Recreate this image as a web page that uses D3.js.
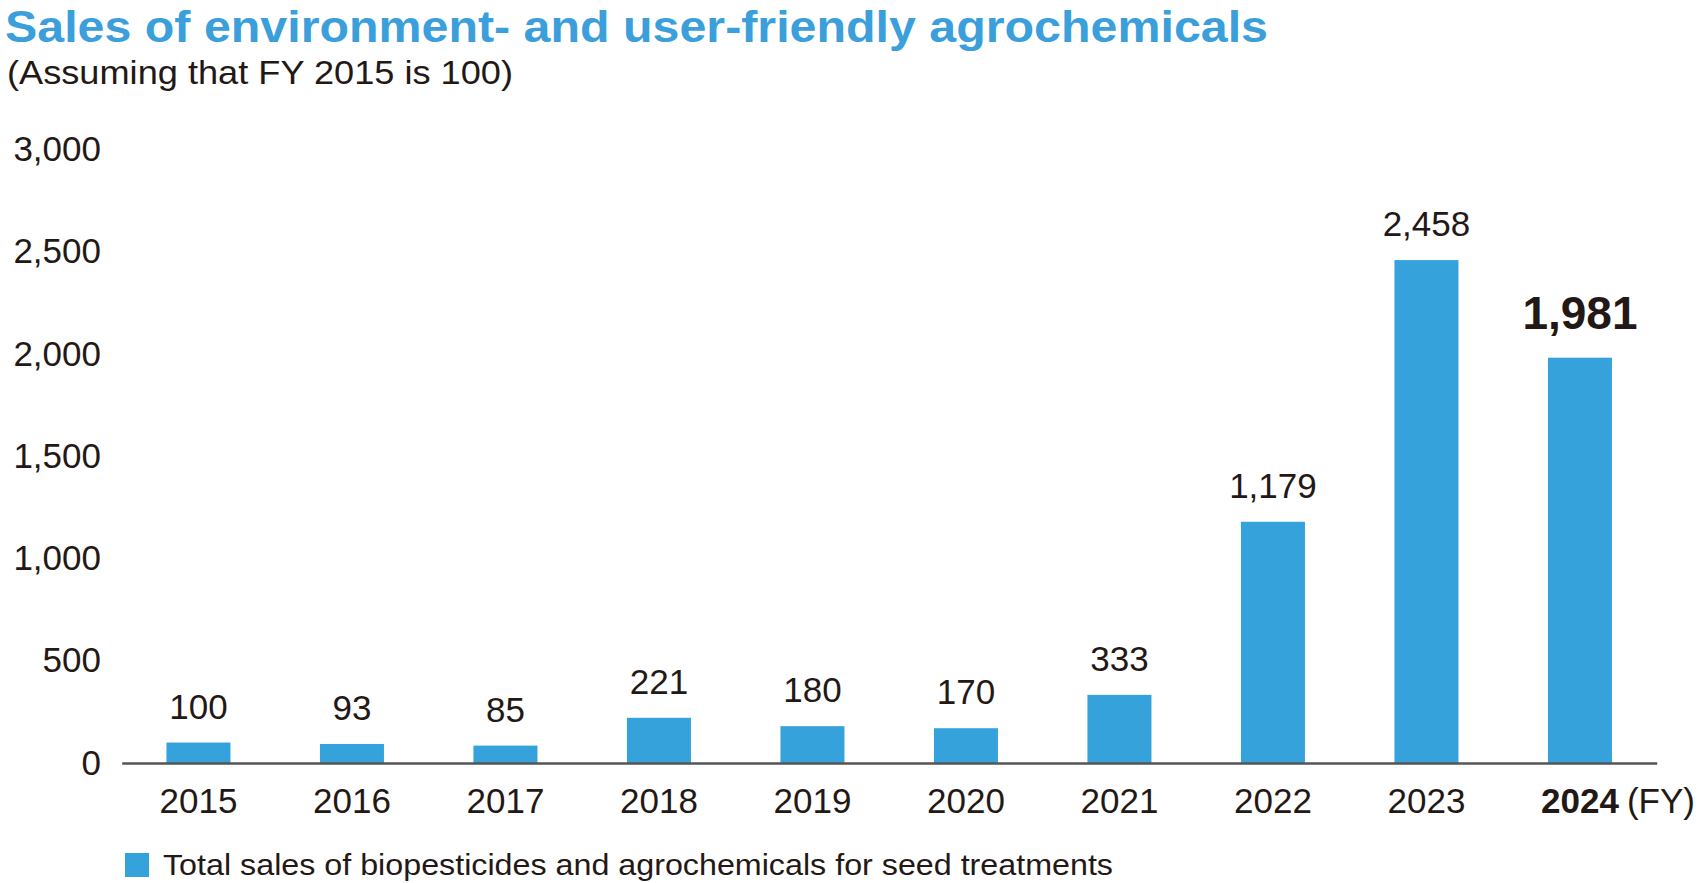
<!DOCTYPE html>
<html>
<head>
<meta charset="utf-8">
<script src="https://cdn.jsdelivr.net/npm/d3@7"></script>
<style>
  html, body { margin: 0; padding: 0; background: #fff; }
  svg { display: block; font-family: "Liberation Sans", Arial, Helvetica, sans-serif; }
</style>
</head>
<body>
<svg id="chart" width="1700" height="883"></svg>
<script>
const years = ["2015", "2016", "2017", "2018", "2019", "2020", "2021", "2022", "2023", "2024"];
const values = [100, 93, 85, 221, 180, 170, 333, 1179, 2458, 1981];
const yTicks = [0, 500, 1000, 1500, 2000, 2500, 3000];
const titleText = "Sales of environment- and user-friendly agrochemicals";
const subtitleText = "(Assuming that FY 2015 is 100)";
const legendText = "Total sales of biopesticides and agrochemicals for seed treatments";
const unitText = "(FY)";

const blue = "#35a2dc";
const ink = "#231815";

const svg = d3.select("#chart");

const x = d3.scaleBand()
  .domain(years)
  .range([121.7, 1656.7])
  .paddingInner(0.583)
  .paddingOuter(0.2915);

const y = d3.scaleLinear()
  .domain([0, 3000])
  .range([763, 149.2]);

// Title
svg.append("text")
  .attr("x", 5).attr("y", 42)
  .attr("fill", "#3a9fdb")
  .attr("font-weight", "bold")
  .attr("font-size", 45)
  .attr("textLength", 1263)
  .attr("lengthAdjust", "spacingAndGlyphs")
  .text(titleText);

svg.append("text")
  .attr("x", 7).attr("y", 84)
  .attr("fill", ink)
  .attr("font-size", 33)
  .attr("textLength", 506)
  .attr("lengthAdjust", "spacingAndGlyphs")
  .text(subtitleText);

// Y axis (labels only)
const yAxis = svg.append("g")
  .attr("transform", "translate(122,0)")
  .call(d3.axisLeft(y).tickValues(yTicks).tickSize(0).tickPadding(21)
    .tickFormat(d3.format(",")));
yAxis.select(".domain").remove();
yAxis.selectAll("text")
  .attr("fill", ink)
  .attr("font-size", 35)
  .attr("font-family", "Liberation Sans, Arial, sans-serif");

// Bars
svg.append("g").selectAll("rect")
  .data(years)
  .join("rect")
  .attr("x", d => x(d))
  .attr("width", x.bandwidth())
  .attr("y", (d, i) => y(values[i]))
  .attr("height", (d, i) => y(0) - y(values[i]))
  .attr("fill", blue);

// Value labels
svg.append("g").selectAll("text")
  .data(years)
  .join("text")
  .attr("x", d => x(d) + x.bandwidth() / 2)
  .attr("y", (d, i) => y(values[i]) - (i === years.length - 1 ? 29 : 24))
  .attr("text-anchor", "middle")
  .attr("fill", ink)
  .attr("font-size", (d, i) => i === years.length - 1 ? 46 : 35)
  .attr("font-weight", (d, i) => i === years.length - 1 ? "bold" : "normal")
  .text((d, i) => d3.format(",")(values[i]));

// X axis
const xAxis = svg.append("g")
  .attr("transform", `translate(0,${y(0)})`)
  .call(d3.axisBottom(x).tickSize(0).tickPadding(50).tickSizeOuter(0));
xAxis.select(".domain")
  .attr("stroke", "#555")
  .attr("stroke-width", 2.5);
xAxis.selectAll("text")
  .attr("fill", ink)
  .attr("font-size", 35)
  .attr("font-family", "Liberation Sans, Arial, sans-serif")
  .attr("dy", 0)
  .attr("y", 50)
  .attr("font-weight", d => d === "2024" ? "bold" : "normal");

// (FY) unit after last label
const last = years[years.length - 1];
svg.append("text")
  .attr("x", x(last) + x.bandwidth() / 2 + 47)
  .attr("y", y(0) + 50)
  .attr("fill", ink)
  .attr("font-size", 35)
  .text(unitText);

// Legend
svg.append("rect")
  .attr("x", 125).attr("y", 853)
  .attr("width", 24).attr("height", 24)
  .attr("fill", blue);
svg.append("text")
  .attr("x", 163).attr("y", 875)
  .attr("fill", ink)
  .attr("font-size", 30)
  .attr("textLength", 950)
  .attr("lengthAdjust", "spacingAndGlyphs")
  .text(legendText);
</script>
</body>
</html>
